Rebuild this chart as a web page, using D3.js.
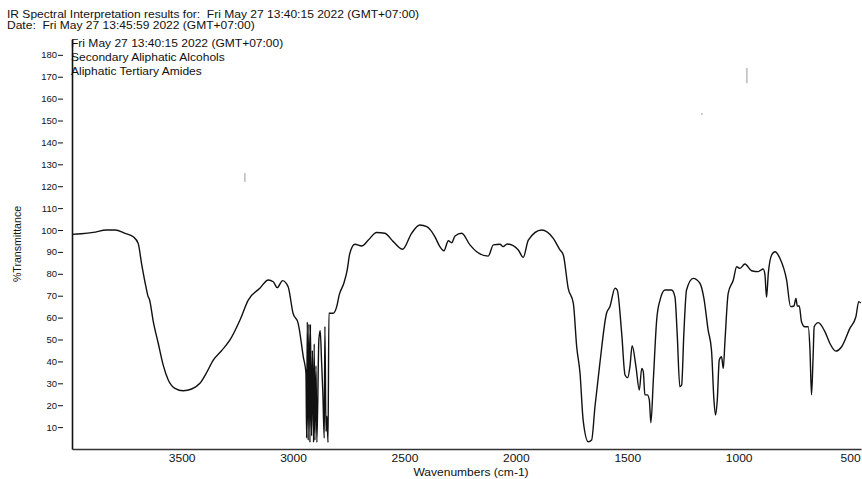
<!DOCTYPE html>
<html>
<head>
<meta charset="utf-8">
<script src="https://cdn.jsdelivr.net/npm/d3@7"></script>
<style>
body { margin: 0; background: #fff; }
text { font-family: "Liberation Sans", Arial, sans-serif; fill: #111; white-space: pre; }
</style>
</head>
<body>
<svg id="ir-chart" width="862" height="479"></svg>
<script>
// spectrum (wavenumber, %T)
var wavenumbers = [3992, 3950, 3897, 3837, 3799, 3754, 3717, 3695, 3680, 3660, 3650, 3645, 3627, 3605, 3583, 3560, 3530, 3493, 3455, 3418,
    3390, 3358, 3320, 3283, 3238, 3201, 3149, 3111, 3089, 3071, 3047, 3022, 3000, 2977, 2954, 2942,
    2939, 2936, 2932, 2929, 2924, 2922, 2917, 2913, 2908, 2905, 2902, 2897, 2893, 2884, 2878, 2872, 2866, 2860, 2857, 2852, 2848, 2843, 2839,
    2820, 2804, 2793, 2772, 2757, 2745, 2722, 2692, 2662, 2625, 2588, 2550, 2508, 2468, 2431, 2400, 2363, 2341, 2323, 2303, 2288, 2273,
    2243, 2206, 2176, 2124, 2101, 2071, 2057, 2039, 1989, 1967, 1944, 1884, 1832, 1802, 1787, 1765, 1742, 1727, 1712, 1698, 1675, 1660,
    1645, 1623, 1593, 1578, 1555, 1545, 1525, 1510, 1498, 1488, 1478, 1461, 1446, 1435, 1428, 1421, 1410, 1401, 1394, 1383, 1368, 1353,
    1331, 1301, 1286, 1276, 1264, 1256, 1246, 1234, 1204, 1174, 1156, 1137, 1122, 1111, 1104, 1096, 1087, 1077, 1069, 1062, 1047, 1024,
    1009, 994, 972, 942, 912, 890, 882, 875, 867, 852, 837, 815, 785, 767, 752, 743, 737, 728, 718, 703, 688, 680, 673, 666, 661, 643,
    613, 591, 564, 538, 501, 474, 461, 452]
var transmittance = [98.0, 98.3, 98.9, 100.0, 100.0, 98.5, 96.9, 93.9, 84.8, 74, 69.5, 68.5, 58.1, 48.3, 38.4, 31.5, 27.7, 26.6, 27.4, 30.0,
    34.5, 40.6, 45, 49.8, 58.9, 68.0, 73.4, 77.2, 76.4, 73.7, 76.9, 74.1, 62.0, 57.4, 42.1, 34.6,
    5, 58, 4, 57, 3, 57, 6, 45, 3, 48, 4, 38, 3, 50, 54, 40, 25, 5, 56, 8, 15, 3, 62,
    62, 65, 70.3, 75.7, 81.7, 89.4, 93.5, 92.7, 95.4, 98.9, 98.5, 94.7, 91.2, 98.5, 102.3, 101.5, 96.9, 92.4, 90.5, 95.1, 94.2, 97.3,
    98.5, 93.2, 90.1, 88.1, 93.2, 93.5, 92.4, 93.6, 90.9, 87.5, 95.4, 100, 96.2, 90.9, 88.6, 73.4, 66.5, 46.7, 34.6, 13.2, 3.3, 4.1,
    19.3, 39.1, 62, 65, 73.4, 72.6, 52.8, 33.8, 32.6, 37.6, 47.2, 37.6, 26.9, 36.8, 35.3, 24.7, 24.7, 22.4, 12.0, 31.5, 58.9, 68,
    72.6, 72.6, 69.5, 52.8, 28.4, 29.2, 52.8, 72.6, 77.9, 75.7, 68.8, 54.3, 45.2, 22.4, 15.5, 22.4, 40.6, 42.1, 36.8, 48.3, 71.1, 77.2,
    83.2, 82.5, 84.5, 81.4, 81.0, 82.2, 79.5, 69.3, 80.2, 88.6, 90.1, 87.1, 77.2, 65, 65.3, 68.8, 65.3, 65.3, 58.1, 55.8, 55.8, 45.2, 24.7, 42.1, 55.8, 57.7,
    53.6, 48.3, 44.7, 46.7, 55.1, 60.4, 67.3, 66.7]

// faint marks near the top of the plot
var markWn = [3216, 963, 1165]
var markTop = [126, 174, 153.4]
var markBottom = [122, 167, 152.5]

var yTicks = [10, 20, 30, 40, 50, 60, 70, 80, 90, 100, 110, 120, 130, 140, 150, 160, 170, 180]
var xTicks = [3500, 3000, 2500, 2000, 1500, 1000, 500]

var headerLines = ['IR Spectral Interpretation results for:  Fri May 27 13:40:15 2022 (GMT+07:00)',
    'Date:  Fri May 27 13:45:59 2022 (GMT+07:00)']
var annotations = ['Fri May 27 13:40:15 2022 (GMT+07:00)', 'Secondary Aliphatic Alcohols', 'Aliphatic Tertiary Amides']

var svg = d3.select('#ir-chart')
var left = 72, right = 861, bottom = 449
var stretch = 'scale(1.17,1)'   // the printout is a bit wider than tall

var x = d3.scaleLinear().domain([3992, 451]).range([left, right])
var y = d3.scaleLinear().domain([0, 187]).range([bottom, 39.5])

// header
svg.append('g').selectAll('text')
    .data(headerLines)
    .enter()
    .append('text')
    .attr('transform', (d, i) => 'translate(7,' + (17.5 + i * 11) + ') ' + stretch)
    .style('font-size', '10.3px')
    .text(d => d)

// y axis (ticks sit just after the labels, apart from the line)
var yAxis = svg.append('g')
    .attr('transform', 'translate(' + left + ',0)')
    .call(d3.axisLeft(y).tickValues(yTicks).tickSize(0).tickSizeOuter(0).tickFormat(d3.format('d')))
yAxis.select('.domain').attr('stroke', '#111').attr('stroke-width', 1.6)
yAxis.selectAll('.tick line').remove()
yAxis.selectAll('.tick').append('line')
    .attr('x1', -14).attr('x2', -9)
    .attr('stroke', '#111').attr('stroke-width', 1)
yAxis.selectAll('.tick text').attr('x', -15).style('font-size', '9.5px').style('font-family', '"Liberation Sans", Arial, sans-serif').attr('fill', '#111')

// x axis
var xAxis = svg.append('g')
    .attr('transform', 'translate(0,' + bottom + ')')
    .call(d3.axisBottom(x).tickValues(xTicks).tickSize(0).tickSizeOuter(0).tickFormat(d3.format('d')))
xAxis.select('.domain').attr('stroke', '#333').attr('stroke-width', 1.3)
xAxis.selectAll('.tick text')
    .attr('y', 6)
    .attr('transform', stretch)
    .style('font-size', '10.3px').style('font-family', '"Liberation Sans", Arial, sans-serif').attr('fill', '#111')

// axis titles
svg.append('text')
    .attr('transform', 'translate(21,244) rotate(-90)')
    .attr('text-anchor', 'middle')
    .style('font-size', '10.6px')
    .text('%Transmittance')
svg.append('text')
    .attr('transform', 'translate(471,476) ' + stretch)
    .attr('text-anchor', 'middle')
    .style('font-size', '10.3px')
    .text('Wavenumbers (cm-1)')

// interpretation labels inside plot
svg.append('g').selectAll('text')
    .data(annotations)
    .enter()
    .append('text')
    .attr('transform', (d, i) => 'translate(' + (left - 1) + ',' + (46.5 + i * 14.2) + ') ' + stretch)
    .style('font-size', '10.3px')
    .text(d => d)

// marks
svg.append('g').selectAll('line')
    .data(markWn)
    .enter()
    .append('line')
    .attr('x1', d => x(d))
    .attr('x2', d => x(d))
    .attr('y1', (d, i) => y(markTop[i]))
    .attr('y2', (d, i) => y(markBottom[i]))
    .attr('stroke', '#999')
    .attr('stroke-width', 1)

// spectrum
var points = wavenumbers.map((w, i) => [w, transmittance[i]])
svg.append('path')
    .datum(points)
    .attr('fill', 'none')
    .attr('stroke', '#111')
    .attr('stroke-width', 1.4)
    .attr('stroke-linejoin', 'round')
    .attr('d', d3.line().curve(d3.curveMonotoneX).x(d => x(d[0])).y(d => y(d[1])))
</script>
</body>
</html>
